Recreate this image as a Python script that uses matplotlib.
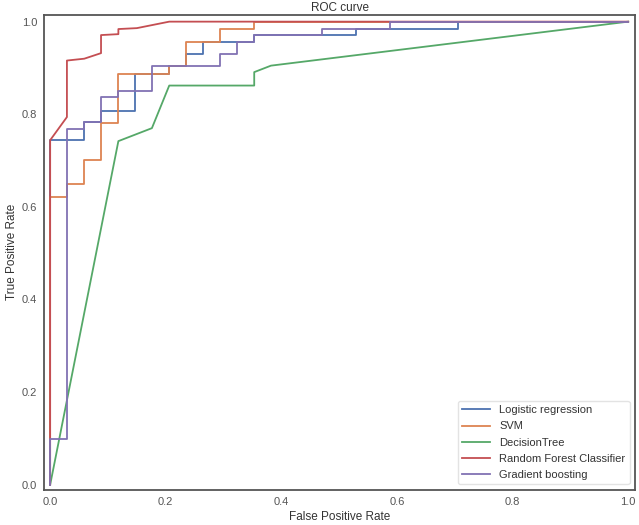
import matplotlib
matplotlib.use("Agg")
import matplotlib.pyplot as plt

plt.rcParams["font.family"] = ["Liberation Sans", "DejaVu Sans"]

# ROC points (fpr, tpr)
lr_fpr = [0, 0, 0.059, 0.059, 0.088, 0.088, 0.147, 0.147, 0.206, 0.206, 0.235, 0.235,
          0.265, 0.265, 0.353, 0.353, 0.529, 0.529, 0.706, 0.706, 1.0]
lr_tpr = [0, 0.744, 0.744, 0.783, 0.783, 0.808, 0.808, 0.888, 0.888, 0.904, 0.904, 0.930,
          0.930, 0.957, 0.957, 0.971, 0.971, 0.984, 0.984, 1.0, 1.0]

svm_fpr = [0, 0, 0.029, 0.029, 0.059, 0.059, 0.088, 0.088, 0.118, 0.118, 0.206, 0.206,
           0.235, 0.235, 0.294, 0.294, 0.353, 0.353, 1.0]
svm_tpr = [0, 0.621, 0.621, 0.650, 0.650, 0.702, 0.702, 0.782, 0.782, 0.888, 0.888, 0.904,
           0.904, 0.957, 0.957, 0.984, 0.984, 1.0, 1.0]

dt_fpr = [0, 0.118, 0.176, 0.206, 0.353, 0.353, 0.382, 1.0]
dt_tpr = [0, 0.742, 0.770, 0.862, 0.862, 0.891, 0.905, 1.0]

rf_fpr = [0, 0, 0.029, 0.029, 0.059, 0.088, 0.088, 0.118, 0.118, 0.150, 0.206, 1.0]
rf_tpr = [0, 0.744, 0.794, 0.916, 0.920, 0.932, 0.971, 0.973, 0.984, 0.986, 1.0, 1.0]

gb_fpr = [0, 0, 0.029, 0.029, 0.059, 0.059, 0.088, 0.088, 0.118, 0.118, 0.176, 0.176,
          0.294, 0.294, 0.324, 0.324, 0.353, 0.353, 0.470, 0.470, 0.588, 0.588, 1.0]
gb_tpr = [0, 0.099, 0.099, 0.769, 0.769, 0.783, 0.783, 0.837, 0.837, 0.851, 0.851, 0.904,
          0.904, 0.930, 0.930, 0.957, 0.957, 0.971, 0.971, 0.984, 0.984, 1.0, 1.0]

labels = ["Logistic regression", "SVM", "DecisionTree",
          "Random Forest Classifier", "Gradient boosting"]
colors = ["#4C72B0", "#DD8452", "#55A868", "#C44E52", "#8172B3"]

curves = [(lr_fpr, lr_tpr), (svm_fpr, svm_tpr), (dt_fpr, dt_tpr),
          (rf_fpr, rf_tpr), (gb_fpr, gb_tpr)]

fig = plt.figure(figsize=(6.39, 5.25), dpi=100)
ax = fig.add_axes([0.069, 0.067, 0.925, 0.905])

for (fpr, tpr), lab, col in zip(curves, labels, colors):
    ax.plot(fpr, tpr, color=col, lw=1.3, label=lab)

ax.set_xlim(-0.0105, 1.012)
ax.set_ylim(-0.011, 1.015)
ax.set_xticks([0, 0.2, 0.4, 0.6, 0.8, 1.0])
ax.set_yticks([0, 0.2, 0.4, 0.6, 0.8, 1.0])
ax.tick_params(length=0, labelsize=8, labelcolor="#555555", pad=5)

for sp in ax.spines.values():
    sp.set_color("#555555")
    sp.set_linewidth(1.3)

ax.set_xlabel("False Positive Rate", fontsize=8.5, color="#333333", labelpad=3)
ax.set_ylabel("True Positive Rate", fontsize=8.5, color="#333333", labelpad=3)
ax.set_title("ROC curve", fontsize=8.5, color="#333333", pad=3)

leg = ax.legend(loc="lower right", fontsize=8, frameon=True, handlelength=2.5,
                labelspacing=0.55, borderaxespad=0.5)
leg.get_frame().set_edgecolor("#dddddd")
for t in leg.get_texts():
    t.set_color("#333333")

fig.savefig("out.png", dpi=100)
